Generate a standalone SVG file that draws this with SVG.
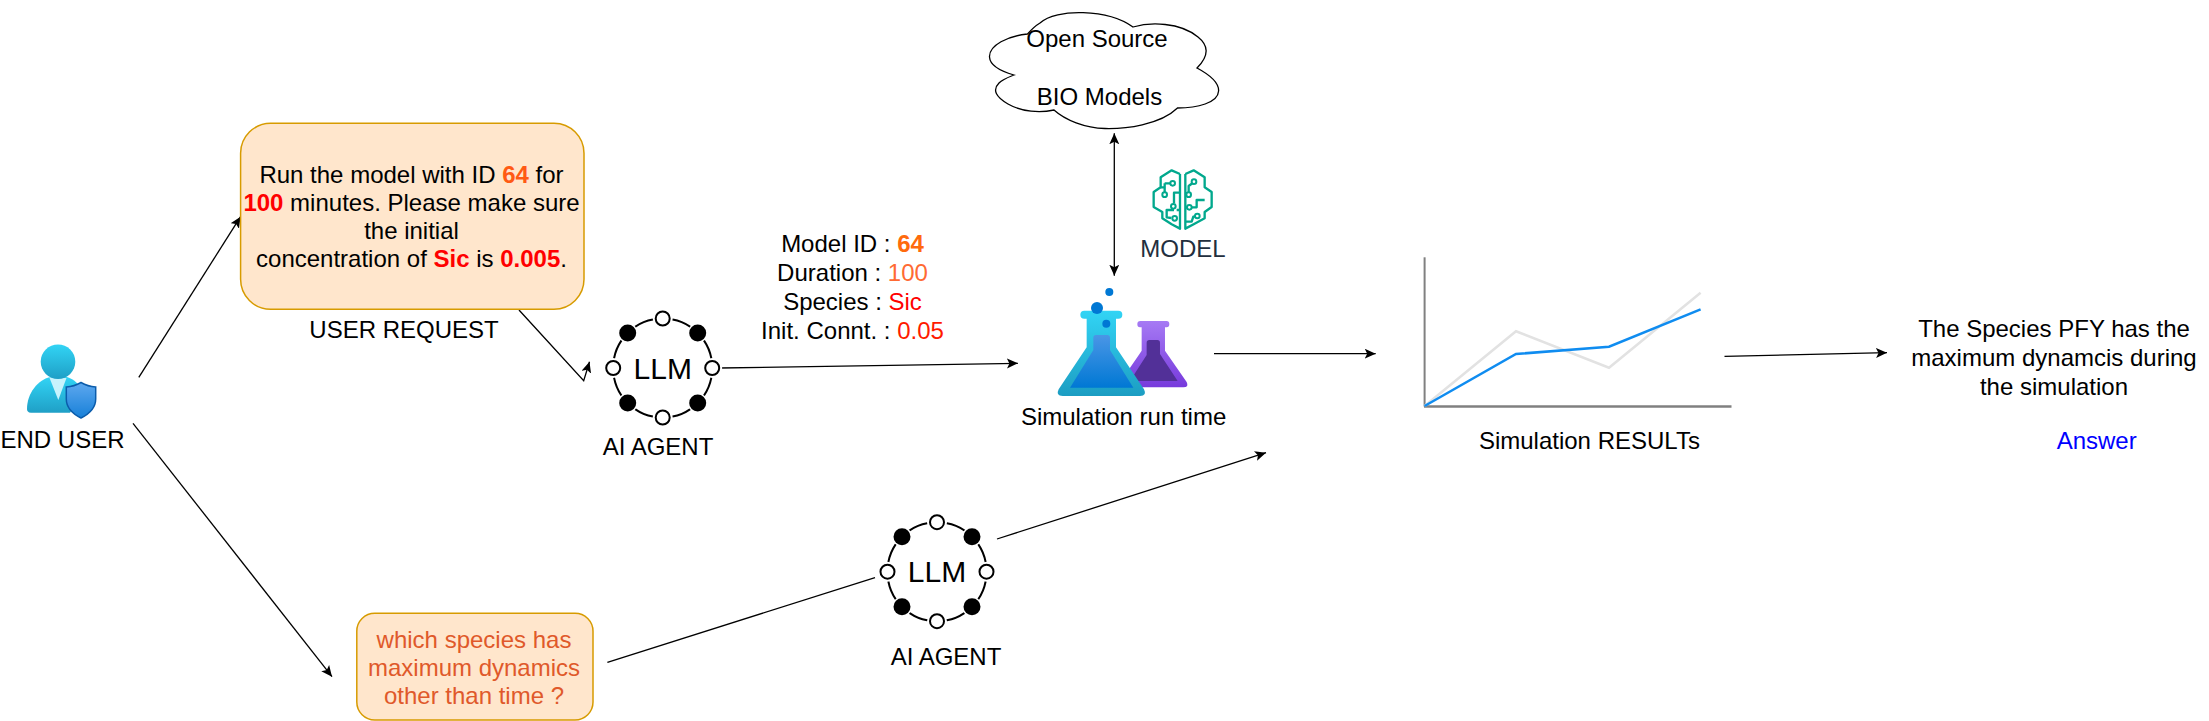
<svg xmlns="http://www.w3.org/2000/svg" width="2209" height="721" viewBox="0 0 2209 721">
<style>
text{font-family:"Liberation Sans",Arial,sans-serif;font-size:24px;fill:#000;text-anchor:middle}
.b{font-weight:bold}.r{fill:#f00}.o{fill:#ff5a14}
.box{fill:#ffe6cc;stroke:#d79b00;stroke-width:1.5}
.conn{fill:none;stroke:#000;stroke-width:1.3;marker-end:url(#a)}
.ring{fill:none;stroke:#000;stroke-width:2}
.halo{fill:#fff;stroke:none}
.on{fill:#fff;stroke:#000;stroke-width:2}
.off{fill:#000}
.brain{fill:none;stroke:#01a88d;stroke-width:7;stroke-linejoin:round}
</style>
<defs>
<marker id="a" markerUnits="userSpaceOnUse" markerWidth="14" markerHeight="12" refX="11" refY="5" orient="auto-start-reverse"><path d="M0 0L11 5L0 10L2.500 5Z" fill="#000"/></marker>
<linearGradient id="uh" x1="0" y1="0" x2="0" y2="1"><stop offset="0" stop-color="#32d4f5"/><stop offset="1" stop-color="#1f9fc6"/></linearGradient>
<linearGradient id="sh" x1="0" y1="0" x2="0" y2="1"><stop offset="0" stop-color="#5ea8ef"/><stop offset="1" stop-color="#1780d8"/></linearGradient>
<linearGradient id="bf" x1="0" y1="0" x2="0" y2="1"><stop offset="0" stop-color="#32d4f5"/><stop offset="1" stop-color="#1c9dc2"/></linearGradient>
<linearGradient id="bi" x1="0" y1="0" x2="0" y2="1"><stop offset="0" stop-color="#4a96e6"/><stop offset="1" stop-color="#0078d4"/></linearGradient>
<linearGradient id="pf" x1="0" y1="0" x2="0" y2="1"><stop offset="0" stop-color="#a67af4"/><stop offset="1" stop-color="#773adc"/></linearGradient>
<g id="llm">
<circle class="ring" r="49.500"/>
<circle class="halo" cy="-49.500" r="10"/><circle class="halo" cy="49.500" r="10"/><circle class="halo" cx="-49.500" r="10"/><circle class="halo" cx="49.500" r="10"/>
<circle class="halo" cx="-35" cy="-35" r="10"/><circle class="halo" cx="35" cy="-35" r="10"/><circle class="halo" cx="-35" cy="35" r="10"/><circle class="halo" cx="35" cy="35" r="10"/>
<circle class="on" cy="-49.500" r="7"/><circle class="on" cy="49.500" r="7"/><circle class="on" cx="-49.500" r="7"/><circle class="on" cx="49.500" r="7"/>
<circle class="off" cx="-35" cy="-35" r="8.500"/><circle class="off" cx="35" cy="-35" r="8.500"/><circle class="off" cx="-35" cy="35" r="8.500"/><circle class="off" cx="35" cy="35" r="8.500"/>
<text y="10.500" style="font-size:30px">LLM</text>
</g>
</defs>
<rect width="2209" height="721" fill="#fff"/>
<g id="connectors">
<path class="conn" d="M138.800 377.300L240.600 216.700"/>
<path class="conn" d="M519 310L583.700 380.700L589.500 361.700"/>
<path class="conn" d="M720 368L1017.900 363.300"/>
<path class="conn" d="M133 423.300L332 676.700"/>
<path class="conn" d="M607.400 662.300L875 577.700" style="marker-end:none"/>
<path class="conn" d="M997 539L1266 452.700"/>
<path class="conn" d="M1214 353.700L1375.700 353.700"/>
<path class="conn" d="M1724.500 356.300L1887 352.700"/>
<path class="conn" d="M1114.300 133.300L1114.300 275.700" style="marker-start:url(#a)"/>
</g>
<g id="end-user">
<path d="M27 409C27 393 38 380 50 377L67 377C74 379 80 385 84 392L70 412.700L31 412.700C28 412.700 27 411 27 409Z" fill="url(#uh)"/>
<path d="M49.300 377.300L66.500 378L58.300 400Z" fill="#c8f3fd"/>
<circle cx="58" cy="361.700" r="17.300" fill="url(#uh)"/>
<path d="M81 382.500C76 385.500 71 386.700 66.300 386.900L66.300 399C66.300 409 74 414.500 81 418C88 414.500 95.700 409 95.700 399L95.700 386.900C91 386.700 86 385.500 81 382.500Z" fill="url(#sh)" stroke="#0b5cab" stroke-width="1.500"/>
<text x="62.500" y="448">END USER</text>
</g>
<g id="user-request">
<rect class="box" x="240.600" y="123.300" width="343.400" height="186" rx="30" ry="30"/>
<text x="411.500" y="183">Run the model with ID <tspan class="b o">64</tspan> for</text>
<text x="411.500" y="211"><tspan class="b r">100</tspan> minutes. Please make sure</text>
<text x="411.500" y="239">the initial</text>
<text x="411.500" y="267">concentration of <tspan class="b r">Sic</tspan> is <tspan class="b r">0.005</tspan>.</text>
<text x="404" y="337.500">USER REQUEST</text>
</g>
<g id="agent-1">
<use href="#llm" x="662.700" y="368"/>
<text x="658" y="455">AI AGENT</text>
</g>
<g id="params">
<text x="852.500" y="252">Model ID : <tspan class="b" style="fill:#ff6a0d">64</tspan></text>
<text x="852.500" y="281">Duration : <tspan style="fill:#ff6a33">100</tspan></text>
<text x="852.500" y="310">Species : <tspan class="r">Sic</tspan></text>
<text x="852.500" y="339">Init. Connt. : <tspan style="fill:#ff1a00">0.05</tspan></text>
</g>
<g id="cloud">
<path d="M1027.500 34C1031 30 1035 26 1040 23C1056 8 1108 9 1133 27C1150 22 1180 22 1198 37C1208 45 1210 55 1197 68C1212 76 1219 83 1218.600 91C1218 103 1197 108 1177.500 108C1160 125 1125 129 1105 128.500C1085 128 1065 120 1054 110C1040 113 1022 112 1008 104C996 97 992 90 999 83C1003 79 1009 77 1014 75C1000 71 990 66 989.500 57C989 45 1008 36 1027.500 34Z" fill="#fff" stroke="#000" stroke-width="1.300"/>
<text x="1097" y="47">Open Source</text>
<text x="1099.500" y="105">BIO Models</text>
</g>
<g id="model">
<g transform="translate(1130 160) scale(.3333)">
<path class="brain" d="M150 42L125 31L92 52L92 82L71 96L71 141L97 156L97 175L125 193L150 206L150 42M166 42L191 31L224 52L224 82L245 96L245 141L224 156L224 175L191 193L166 206L166 42"/>
<path class="brain" d="M92 82L104 82M104 70L122 70M104 70V96M150 98H132V130M132 150L110 150L110 172L124 174M224 120H200V142H186M166 142H170M166 100L176 100M192 66L176 78V96M166 185H185L190 170L202 168M150 150H140"/>
<g fill="#fff" stroke="#01a88d" stroke-width="6"><circle cx="128" cy="70" r="7"/><circle cx="104" cy="104" r="7"/><circle cx="130" cy="139" r="7"/><circle cx="134" cy="175" r="7"/><circle cx="192" cy="65" r="7"/><circle cx="176" cy="104" r="7"/><circle cx="178" cy="142" r="7"/><circle cx="202" cy="168" r="7"/></g>
</g>
<text x="1183" y="257" style="fill:#232f3e">MODEL</text>
</g>
<g id="simulation">
<g transform="translate(1040 270) scale(.3333)">
<path d="M292 162Q292 153 301 153H380Q388 153 388 162Q388 172 380 172H375V242L440 336Q448 352 430 352H230L300 250L305 242V172H300Q292 172 292 162Z" fill="url(#pf)"/>
<path d="M320 218Q320 210 328 210H352Q360 210 360 218V252L413 333H270L320 255Z" fill="#523098"/>
<path d="M121 134Q121 122 133 122H235Q247 122 247 134Q247 146 235 146H228V232L312 358Q322 378 300 378H68Q46 378 56 358L140 232V146H133Q121 146 121 134Z" fill="url(#bf)"/>
<path d="M160 203Q160 195 168 195H202Q210 195 210 203V240L280 353H90L160 240Z" fill="url(#bi)"/>
<circle cx="171" cy="114" r="18" fill="#0078d4"/><circle cx="208" cy="66" r="12" fill="#0078d4"/><circle cx="199" cy="161" r="12" fill="#0078d4"/>
</g>
<text x="1123.600" y="425">Simulation run time</text>
</g>
<g id="results">
<path d="M1424.600 257.300V406.500" fill="none" stroke="#808080" stroke-width="2"/>
<path d="M1424 406.500H1731.500" fill="none" stroke="#808080" stroke-width="2.500"/>
<path d="M1424.600 406L1516 331.300L1609 367.700L1700.600 292.700" fill="none" stroke="#e2e2e2" stroke-width="2.500"/>
<path d="M1424.600 406L1516 354L1609 346.700L1700.600 309.300" fill="none" stroke="#0f8cf0" stroke-width="2.500"/>
<text x="1589.400" y="449">Simulation RESULTs</text>
</g>
<g id="answer">
<text x="2054" y="337">The Species PFY has the</text>
<text x="2054" y="366">maximum dynamcis during</text>
<text x="2054" y="395">the simulation</text>
<text x="2096.700" y="449" style="fill:#00f">Answer</text>
</g>
<g id="question">
<rect class="box" x="356.800" y="613.300" width="236.200" height="106.700" rx="18" ry="18"/>
<text x="474" y="648" style="fill:#e0592a">which species has</text>
<text x="474" y="676" style="fill:#e0592a">maximum dynamics</text>
<text x="474" y="704" style="fill:#e0592a">other than time ?</text>
</g>
<g id="agent-2">
<use href="#llm" x="937" y="571.700"/>
<text x="946" y="665">AI AGENT</text>
</g>
</svg>
